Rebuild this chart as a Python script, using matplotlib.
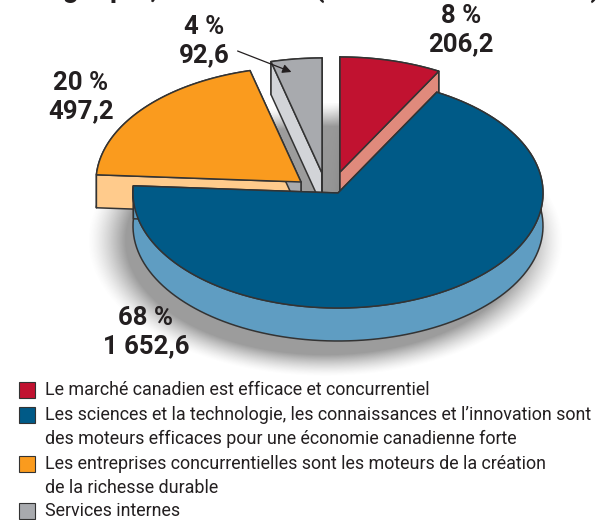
"""Exploded pseudo-3D pie of planned spending by strategic outcome."""

import numpy as np
import matplotlib

matplotlib.use("Agg")
import matplotlib.pyplot as plt
from matplotlib.patches import Polygon, Rectangle

FONT = ["Roboto", "Liberation Sans", "DejaVu Sans"]

# data
PERCENTS = [8, 68, 20, 4]
PERCENT_LABELS = ["8 %", "68 %", "20 %", "4 %"]
AMOUNT_LABELS = ["206,2", "1 652,6", "497,2", "92,6"]
LEGEND_LABELS = [
    "Le marché canadien est efficace et concurrentiel",
    "Les sciences et la technologie, les connaissances et l’innovation sont\n"
    "des moteurs efficaces pour une économie canadienne forte",
    "Les entreprises concurrentielles sont les moteurs de la création\n"
    "de la richesse durable",
    "Services internes",
]
TITLE = "Budget par, en 2011-12 (en millions de dollars)"

# styling
TOP_COLORS = ["#C11230", "#005A87", "#FA9B1E", "#A8AAAE"]
WALL_COLORS = ["#E08A7C", "#5F9DC2", "#FFCB8C", "#D2D4D8"]
STOP_FACE_COLORS = ["#E08A7C", "#5F9DC2", "#A8AAAE", "#D2D4D8"]
APEXES = [(340, 172), (338, 193), (301, 182), (322, 173)]
LABEL_POS = [(461, 30), (146, 332), (81, 97), (204, 41)]
LEGEND_Y = [390, 415, 464, 511]
RX, RY, DEPTH = 205, 115, 33
EDGE = "#333333"


def ellipse_xy(apex, angles, depth=0):
    t = np.radians(angles)
    return apex[0] + RX * np.cos(t), apex[1] - RY * np.sin(t) + depth


def draw_shadow(ax):
    yy, xx = np.mgrid[0:520, 0:612]
    dist = np.hypot((xx - 325) / 238, (yy - 240) / 136)
    alpha = np.clip((1.0 - dist) / 0.16, 0, 1) ** 1.4 * 0.62
    img = np.zeros((520, 612, 4))
    img[..., :3] = 0.38
    img[..., 3] = alpha
    ax.imshow(img, extent=(0, 612, 520, 0), zorder=1, interpolation="bilinear")

    # soft shading in the gap between the grey and red slices
    gy, gx = np.mgrid[0:90, 0:18]
    gap = np.zeros((90, 18, 4))
    gap[..., :3] = 0.55
    gap[..., 3] = (gy / 89) ** 0.6 * (0.38 + 0.5 * (gx / 17) ** 3)
    ax.imshow(gap, extent=(322, 340, 192, 102), zorder=2, interpolation="bilinear")


def draw_slice(ax, apex, start, stop, top, wall, stop_face, z):
    angles = np.linspace(start, stop, 120)
    x, y = ellipse_xy(apex, angles)
    style = dict(edgecolor=EDGE, linewidth=1.1, joinstyle="round", zorder=z)

    # outer wall
    _, y_low = ellipse_xy(apex, angles, DEPTH)
    rim = np.column_stack([np.r_[x, x[::-1]], np.r_[y, y_low[::-1]]])
    ax.add_patch(Polygon(rim, facecolor=wall, **style))

    # cut faces
    for ex, ey, face in ((x[0], y[0], wall), (x[-1], y[-1], stop_face)):
        cut = [apex, (ex, ey), (ex, ey + DEPTH), (apex[0], apex[1] + DEPTH)]
        ax.add_patch(Polygon(cut, facecolor=face, **style))

    outline = np.vstack([apex, np.column_stack([x, y])])
    ax.add_patch(Polygon(outline, facecolor=top, **style))


fig = plt.figure(figsize=(6.12, 5.20), dpi=100)
ax = fig.add_axes([0, 0, 1, 1])

draw_shadow(ax)
ax.set_xlim(0, 612)
ax.set_ylim(520, 0)
ax.axis("off")

shares = np.array(PERCENTS) / sum(PERCENTS) * 360
edges = 90 - np.r_[0, np.cumsum(shares)]
order = [3, 2, 0, 1]
for i in order:
    draw_slice(ax, APEXES[i], edges[i], edges[i + 1], TOP_COLORS[i], WALL_COLORS[i],
               STOP_FACE_COLORS[i], 3 + order.index(i))

for (lx, ly), pct, amt in zip(LABEL_POS, PERCENT_LABELS, AMOUNT_LABELS):
    ax.text(lx, ly, f"{pct}\n{amt}", ha="center", va="center", fontsize=18.5,
            fontweight="bold", family=FONT, color="#231F20", linespacing=1.22, zorder=10)

ax.annotate("", xy=(294, 73), xytext=(235, 50), zorder=11,
            arrowprops=dict(arrowstyle="-|>", color="#231F20", lw=0.9, mutation_scale=13))

# title is cut by the top edge of the picture, only its descenders show
ax.text(600, -3, TITLE, ha="right", va="baseline", fontsize=20, fontweight="bold",
        family=FONT, color="#231F20")

for y, color, label in zip(LEGEND_Y, TOP_COLORS, LEGEND_LABELS):
    ax.add_patch(Rectangle((19, y - 8), 16, 16, facecolor=color, edgecolor=EDGE, linewidth=0.8, zorder=10))
    ax.text(45, y - 9, label, ha="left", va="top", fontsize=12.9, family=FONT,
            color="#231F20", linespacing=1.43, zorder=10)

fig.savefig("out.png", dpi=100)
